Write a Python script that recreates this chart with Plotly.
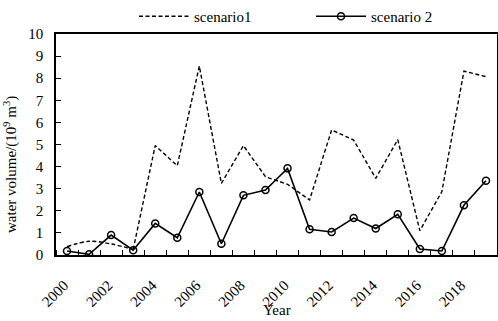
import plotly.graph_objects as go

years = list(range(2000, 2020))
scenario1 = [0.38, 0.62, 0.50, 0.25, 4.95, 4.04, 8.55, 3.24, 4.95, 3.54,
             3.20, 2.49, 5.66, 5.20, 3.47, 5.22, 1.10, 2.87, 8.32, 8.07]
scenario2 = [0.18, 0.03, 0.90, 0.22, 1.43, 0.78, 2.85, 0.51, 2.70, 2.94,
             3.92, 1.16, 1.04, 1.67, 1.20, 1.84, 0.27, 0.18, 2.25, 3.36]
xtick_vals = list(range(2000, 2019, 2))
xtick_text = [str(v) for v in xtick_vals]
ytick_vals = list(range(0, 11))

FONT = "Liberation Serif, Times New Roman, serif"
dash = "4px,2.5px"

fig = go.Figure()
# smooth first segment of scenario1
fig.add_trace(go.Scatter(x=years[:4], y=scenario1[:4], mode="lines",
                         line=dict(color="black", width=1.4, dash=dash, shape="spline"),
                         legendgroup="s1", showlegend=False, hoverinfo="skip"))
fig.add_trace(go.Scatter(x=years[3:], y=scenario1[3:], mode="lines", name="scenario1",
                         line=dict(color="black", width=1.4, dash=dash),
                         legendgroup="s1"))
fig.add_trace(go.Scatter(x=years, y=scenario2, mode="lines+markers", name="scenario 2",
                         line=dict(color="black", width=1.6),
                         marker=dict(symbol="circle-open", size=7, color="black",
                                     line=dict(width=1.5, color="black"))))

fig.update_layout(
    width=498, height=321,
    margin=dict(l=56, r=1, t=34, b=66),
    paper_bgcolor="white", plot_bgcolor="white",
    font=dict(family=FONT, size=15, color="black"),
    showlegend=True,
    legend=dict(orientation="h", xref="container", yref="container",
                x=134 / 498, xanchor="left", y=1.0, yanchor="top",
                font=dict(family=FONT, size=15, color="black"),
                itemwidth=50, entrywidth=112, bgcolor="rgba(0,0,0,0)", tracegroupgap=0),
    xaxis=dict(range=[1999.5, 2019.5], tickmode="array", tickvals=xtick_vals,
               ticktext=xtick_text, tickangle=-45, ticks="", showgrid=False,
               showline=True, linecolor="black", linewidth=1.5, mirror=True,
               zeroline=False, ticklabelstandoff=14, ticklabelshift=-3, automargin=False,
               tickfont=dict(family=FONT, size=15, color="black"),
               minor=dict(tick0=1999.5, dtick=1, ticks="inside", ticklen=5,
                          tickcolor="black", tickwidth=1, showgrid=False)),
    yaxis=dict(range=[0, 10], tickmode="array", tickvals=ytick_vals,
               ticks="inside", ticklen=5, tickcolor="black", tickwidth=1,
               showgrid=False, showline=True, linecolor="black", linewidth=1.5,
               mirror=True, zeroline=False, ticklabelstandoff=8, automargin=False,
               tickfont=dict(family=FONT, size=15, color="black")),
    annotations=[
        dict(text="water volume/(10<sup>9</sup> m<sup>3</sup>)",
             xref="paper", yref="paper", x=(10 - 56) / 441, y=(255 - 165) / 221,
             xanchor="center", yanchor="middle", textangle=-90, showarrow=False,
             font=dict(family=FONT, size=15, color="black")),
        dict(text="Year", xref="paper", yref="paper", x=0.5, y=(255 - 320) / 221,
             xanchor="center", yanchor="bottom", showarrow=False,
             font=dict(family=FONT, size=15, color="black")),
    ],
)

fig.write_html("out.html", config={"displayModeBar": False},
               post_script="document.body.style.margin='0';document.body.style.padding='0';")
